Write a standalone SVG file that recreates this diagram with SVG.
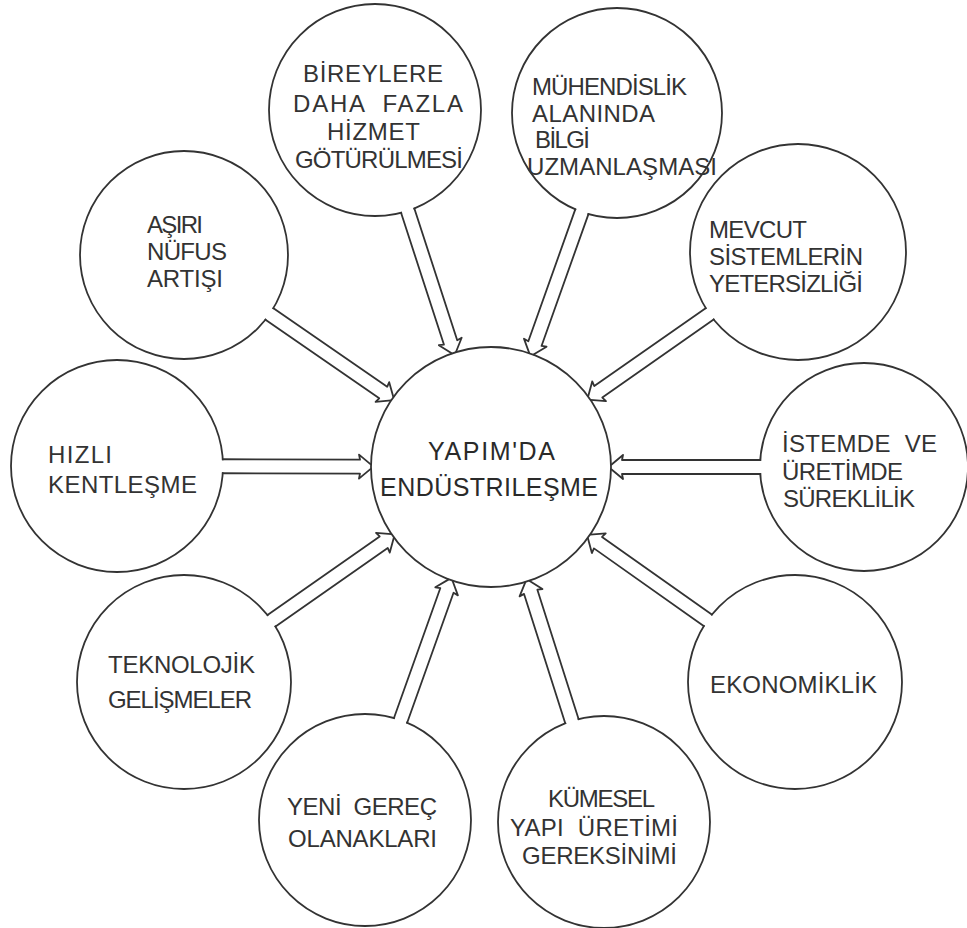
<svg xmlns="http://www.w3.org/2000/svg" width="967" height="928" viewBox="0 0 967 928">
<style>
.c{fill:#fff;stroke:#333;stroke-width:1.8}
.t{font-family:"Liberation Sans","DejaVu Sans",Arial,sans-serif;font-size:24px;fill:#333}
.tc{font-family:"Liberation Sans","DejaVu Sans",Arial,sans-serif;font-size:25px;fill:#2a2a2a}
.a{fill:none;stroke:#333;stroke-width:1.8;stroke-linejoin:round}
.cov{fill:#fff}
</style>
<rect width="967" height="928" fill="#fff"/>
<g id="center">
<circle class="c" cx="491" cy="467" r="120"/>
<text class="tc" x="428" y="460" textLength="127" lengthAdjust="spacing">YAPIM'DA</text>
<text class="tc" x="380" y="496" textLength="218" lengthAdjust="spacing">ENDÜSTRILEŞME</text>
</g>
<g id="n-bireylere">
<circle class="c" cx="375" cy="110" r="106"/>
<text class="t" x="303" y="82" textLength="140" lengthAdjust="spacing">BİREYLERE</text>
<text class="t" x="293" y="112" textLength="170" lengthAdjust="spacing" xml:space="preserve">DAHA  FAZLA</text>
<text class="t" x="327" y="140" textLength="93" lengthAdjust="spacing">HİZMET</text>
<text class="t" x="295" y="168" textLength="168" lengthAdjust="spacing">GÖTÜRÜLMESİ</text>
</g>
<g id="n-muhendislik">
<circle class="c" cx="617" cy="113" r="105"/>
<text class="t" x="532" y="95" textLength="155" lengthAdjust="spacing">MÜHENDİSLİK</text>
<text class="t" x="532" y="122" textLength="123" lengthAdjust="spacing">ALANINDA</text>
<text class="t" x="535" y="148" textLength="55" lengthAdjust="spacing">BİLGİ</text>
<text class="t" x="527" y="175" textLength="190" lengthAdjust="spacing">UZMANLAŞMASI</text>
</g>
<g id="n-asiri">
<circle class="c" cx="184" cy="255" r="104"/>
<text class="t" x="147" y="233" textLength="56" lengthAdjust="spacing">AŞIRI</text>
<text class="t" x="147" y="260" textLength="80" lengthAdjust="spacing">NÜFUS</text>
<text class="t" x="147" y="287" textLength="76" lengthAdjust="spacing">ARTIŞI</text>
</g>
<g id="n-mevcut">
<circle class="c" cx="798" cy="252" r="108"/>
<text class="t" x="709" y="238" textLength="98" lengthAdjust="spacing">MEVCUT</text>
<text class="t" x="709" y="265" textLength="154" lengthAdjust="spacing">SİSTEMLERİN</text>
<text class="t" x="709" y="292" textLength="154" lengthAdjust="spacing">YETERSİZLİĞİ</text>
</g>
<g id="n-hizli">
<circle class="c" cx="117" cy="466" r="106"/>
<text class="t" x="48" y="463" textLength="64" lengthAdjust="spacing">HIZLI</text>
<text class="t" x="48" y="493" textLength="149" lengthAdjust="spacing">KENTLEŞME</text>
</g>
<g id="n-istemde">
<circle class="c" cx="864" cy="467" r="104"/>
<text class="t" x="782" y="452" textLength="155" lengthAdjust="spacing" xml:space="preserve">İSTEMDE  VE</text>
<text class="t" x="782" y="480" textLength="121" lengthAdjust="spacing">ÜRETİMDE</text>
<text class="t" x="783" y="507" textLength="132" lengthAdjust="spacing">SÜREKLİLİK</text>
</g>
<g id="n-teknolojik">
<circle class="c" cx="184" cy="682" r="107"/>
<text class="t" x="108" y="673" textLength="147" lengthAdjust="spacing">TEKNOLOJİK</text>
<text class="t" x="108" y="708" textLength="144" lengthAdjust="spacing">GELİŞMELER</text>
</g>
<g id="n-ekonomiklik">
<circle class="c" cx="795" cy="682" r="107"/>
<text class="t" x="710" y="693" textLength="167" lengthAdjust="spacing">EKONOMİKLİK</text>
</g>
<g id="n-yeni">
<circle class="c" cx="365" cy="820" r="106"/>
<text class="t" x="287" y="815" textLength="150" lengthAdjust="spacing" xml:space="preserve">YENİ  GEREÇ</text>
<text class="t" x="288" y="847" textLength="149" lengthAdjust="spacing">OLANAKLARI</text>
</g>
<g id="n-kumesel">
<circle class="c" cx="604" cy="822" r="106"/>
<text class="t" x="548" y="807" textLength="107" lengthAdjust="spacing">KÜMESEL</text>
<text class="t" x="510" y="836" textLength="168" lengthAdjust="spacing" xml:space="preserve">YAPI  ÜRETİMİ</text>
<text class="t" x="522" y="864" textLength="155" lengthAdjust="spacing">GEREKSİNİMİ</text>
</g>
<g id="connectors">
<g transform="translate(375,110) rotate(71.99)"><rect class="cov" x="103" y="-6" width="6" height="12"/><path class="a" d="M105,-7H244.4L243.4,-12L255.4,-2M105,7H244.4L243.4,12L255.4,2"/></g>
<g transform="translate(617,113) rotate(109.59)"><rect class="cov" x="102" y="-6" width="6" height="12"/><path class="a" d="M104,-7H244.8L243.8,-12L255.8,-2M104,7H244.8L243.8,12L255.8,2"/></g>
<g transform="translate(184,255) rotate(34.63)"><rect class="cov" x="101" y="-6" width="6" height="12"/><path class="a" d="M103,-7H242.1L241.1,-12L253.1,-2M103,7H242.1L241.1,12L253.1,2"/></g>
<g transform="translate(798,252) rotate(145)"><rect class="cov" x="105" y="-6" width="6" height="12"/><path class="a" d="M107,-7H243.8L242.8,-12L254.8,-2M107,7H243.8L242.8,12L254.8,2"/></g>
<g transform="translate(117,466) rotate(0.15)"><rect class="cov" x="103" y="-6" width="6" height="12"/><path class="a" d="M105,-7H243L242,-12L254,-2M105,7H243L242,12L254,2"/></g>
<g transform="translate(864,467) rotate(180)"><rect class="cov" x="101" y="-6" width="6" height="12"/><path class="a" d="M103,-7H242L241,-12L253,-2M103,7H242L241,12L253,2"/></g>
<g transform="translate(184,682) rotate(-35)"><rect class="cov" x="104" y="-6" width="6" height="12"/><path class="a" d="M106,-7H243.8L242.8,-12L254.8,-2M106,7H243.8L242.8,12L254.8,2"/></g>
<g transform="translate(795,682) rotate(-144.73)"><rect class="cov" x="104" y="-6" width="6" height="12"/><path class="a" d="M106,-7H241.3L240.3,-12L252.3,-2M106,7H241.3L240.3,12L252.3,2"/></g>
<g transform="translate(365,820) rotate(-70.36)"><rect class="cov" x="103" y="-6" width="6" height="12"/><path class="a" d="M105,-7H243.8L242.8,-12L254.8,-2M105,7H243.8L242.8,12L254.8,2"/></g>
<g transform="translate(604,822) rotate(-107.66)"><rect class="cov" x="103" y="-6" width="6" height="12"/><path class="a" d="M105,-7H241.6L240.6,-12L252.6,-2M105,7H241.6L240.6,12L252.6,2"/></g>
</g>
</svg>
